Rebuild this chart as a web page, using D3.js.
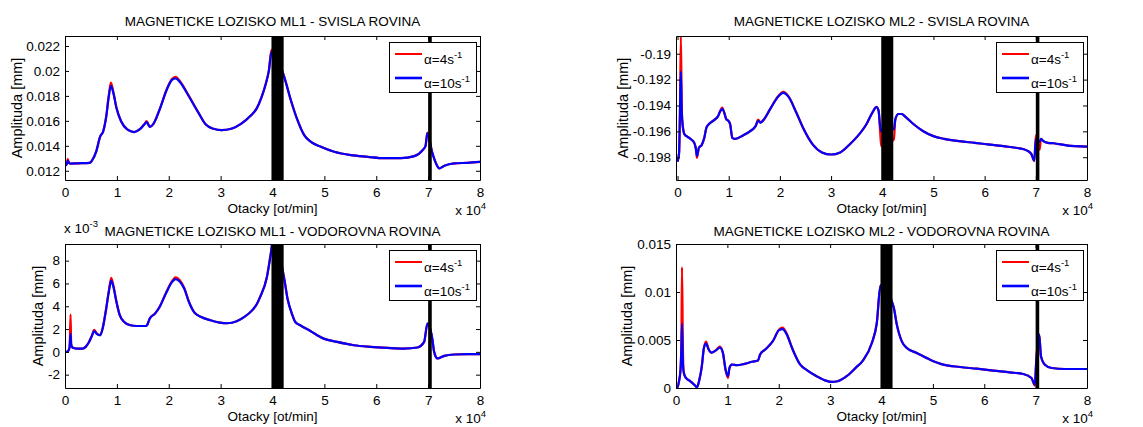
<!DOCTYPE html>
<html>
<head>
<meta charset="utf-8">
<script src="https://cdn.jsdelivr.net/npm/d3@7"></script>
<style>
  body { margin: 0; background: #fff; }
  svg { display: block; font-family: "Liberation Sans", Arial, Helvetica, sans-serif; }
</style>
</head>
<body>
<svg id="fig" width="1143" height="427"></svg>
<script>
// ---- shared axis data ----
const xTicks = [0, 10000, 20000, 30000, 40000, 50000, 60000, 70000, 80000];
const xTickLabels = ["0", "1", "2", "3", "4", "5", "6", "7", "8"];
const seriesLabels = ["\u03b1=4s", "\u03b1=10s"];   // each followed by superscript -1
const seriesColors = ["#ff0000", "#0000ff"];
// speed ranges where the response oscillates densely (drawn solid black)
const bands = [[39800, 42150], [70000, 70700]];

// ---- ML1, vertical plane ----
const ml1SvRpm = [0, 300, 535, 800, 1010, 2500, 4750, 5170, 6060, 6770, 7370, 7960, 8440, 8850, 9330, 9920,
  10810, 12000, 13310, 14380, 15270, 15750, 16340, 17050, 18240, 19730, 20620, 21330, 22100, 23890, 25670,
  27150, 28640, 30120, 32200, 33990, 35770, 36960, 37900, 38700, 39300, 39800, 42250, 43540, 44820, 46110,
  47400, 49320, 51900, 55110, 58330, 61540, 64760, 67330, 68940, 69500, 69850, 70800, 71520, 72160, 73120,
  75050, 77620, 80000];
const ml1SvA4 = [0.01240, 0.01250, 0.01293, 0.01262, 0.01258, 0.01260, 0.01263, 0.01280, 0.01360, 0.01473,
  0.01517, 0.01640, 0.01805, 0.01906, 0.01830, 0.01705, 0.01597, 0.01531, 0.01510, 0.01531, 0.01572, 0.01598,
  0.01552, 0.01576, 0.01692, 0.01865, 0.01935, 0.01952, 0.01922, 0.01800, 0.01670, 0.01570, 0.01536, 0.01525,
  0.01539, 0.01578, 0.01640, 0.01700, 0.01792, 0.01898, 0.02005, 0.02170, 0.01955, 0.01765, 0.01605, 0.01485,
  0.01432, 0.01392, 0.01352, 0.01325, 0.01312, 0.01301, 0.01301, 0.01317, 0.01365, 0.01400, 0.01505, 0.01345,
  0.01259, 0.01219, 0.01240, 0.01259, 0.01264, 0.01272];
const ml1SvA10 = [0.01240, 0.01250, 0.01280, 0.01262, 0.01258, 0.01260, 0.01263, 0.01280, 0.01360, 0.01473,
  0.01517, 0.01637, 0.01795, 0.01880, 0.01822, 0.01703, 0.01597, 0.01531, 0.01510, 0.01531, 0.01570, 0.01590,
  0.01552, 0.01576, 0.01690, 0.01861, 0.01928, 0.01941, 0.01914, 0.01795, 0.01668, 0.01570, 0.01536, 0.01525,
  0.01539, 0.01578, 0.01640, 0.01700, 0.01790, 0.01895, 0.02000, 0.02150, 0.01952, 0.01765, 0.01605, 0.01485,
  0.01432, 0.01392, 0.01352, 0.01325, 0.01312, 0.01301, 0.01301, 0.01317, 0.01365, 0.01400, 0.01499, 0.01345,
  0.01259, 0.01219, 0.01240, 0.01259, 0.01264, 0.01272];

// ---- ML2, vertical plane ----
const ml2SvRpm = [0, 300, 475, 650, 830, 1010, 1370, 1960, 2670, 3270, 3560, 3800, 4160, 4750, 5230, 5640,
  6240, 7130, 7900, 8320, 8730, 9210, 9510, 9920, 10280, 10700, 11290, 12770, 14260, 15270, 15750, 16220,
  16930, 18120, 19610, 20680, 21690, 23170, 24660, 26440, 28220, 30000, 31790, 33570, 35190, 36900, 38090,
  38870, 39280, 39580, 39800, 42270, 42560, 43160, 43760, 44650, 46140, 47930, 50000, 52100, 55090, 58070,
  61050, 64030, 66420, 68210, 69110, 69700, 70000, 70750, 71010, 71490, 72380, 73470, 76000, 80000];
const ml2SvA4 = [-0.19834, -0.19768, -0.19440, -0.18868, -0.19420, -0.19550, -0.19624, -0.19642, -0.19663,
  -0.19689, -0.19729, -0.19805, -0.19729, -0.19703, -0.19650, -0.19571, -0.19540, -0.19513, -0.19484, -0.19443,
  -0.19416, -0.19466, -0.19505, -0.19518, -0.19545, -0.19650, -0.19658, -0.19632, -0.19597, -0.19558, -0.19510,
  -0.19532, -0.19505, -0.19426, -0.19330, -0.19295, -0.19330, -0.19450, -0.19584, -0.19703, -0.19763, -0.19779,
  -0.19763, -0.19703, -0.19637, -0.19545, -0.19453, -0.19410, -0.19440, -0.19600, -0.19716, -0.19663, -0.19505,
  -0.19466, -0.19466, -0.19492, -0.19545, -0.19597, -0.19637, -0.19658, -0.19676, -0.19689, -0.19703, -0.19716,
  -0.19729, -0.19747, -0.19774, -0.19830, -0.19630, -0.19742, -0.19658, -0.19676, -0.19689, -0.19692, -0.19708,
  -0.19718];
const ml2SvA10 = [-0.19834, -0.19768, -0.19453, -0.19137, -0.19453, -0.19558, -0.19624, -0.19642, -0.19663,
  -0.19689, -0.19729, -0.19789, -0.19729, -0.19703, -0.19650, -0.19571, -0.19540, -0.19513, -0.19484, -0.19447,
  -0.19426, -0.19466, -0.19505, -0.19518, -0.19545, -0.19650, -0.19658, -0.19632, -0.19597, -0.19558, -0.19518,
  -0.19532, -0.19505, -0.19426, -0.19334, -0.19303, -0.19334, -0.19453, -0.19584, -0.19703, -0.19763, -0.19779,
  -0.19763, -0.19703, -0.19637, -0.19545, -0.19453, -0.19413, -0.19440, -0.19558, -0.19600, -0.19584, -0.19505,
  -0.19466, -0.19466, -0.19492, -0.19545, -0.19597, -0.19637, -0.19658, -0.19676, -0.19689, -0.19703, -0.19716,
  -0.19729, -0.19747, -0.19774, -0.19826, -0.19660, -0.19680, -0.19658, -0.19676, -0.19689, -0.19692, -0.19708,
  -0.19718];

// ---- ML1, horizontal plane ----
const ml1VoRpm = [0, 420, 710, 890, 1070, 1190, 1430, 2200, 3390, 3980, 4580, 5170, 5640, 6180, 6770, 7250,
  7840, 8440, 8910, 9330, 9920, 10520, 11410, 12600, 13790, 15570, 15870, 16340, 17350, 18240, 19430, 20620,
  21330, 22100, 22990, 23890, 24950, 26260, 28040, 29830, 31310, 33100, 34580, 36070, 36960, 37600, 38900,
  39680, 40100, 42260, 42900, 43740, 44390, 45350, 47290, 49870, 52450, 55680, 58900, 62130, 65350, 67940,
  69230, 69870, 70800, 71160, 71810, 73100, 75030, 77610, 80000];
const ml1VoA4 = [0, 0, 0.00015, 0.00044, 0.00327, 0.00070, 0.00038, 0.00029, 0.00029, 0.00044, 0.00082,
  0.00140, 0.00192, 0.00160, 0.00146, 0.00204, 0.00352, 0.00530, 0.00650, 0.00585, 0.00440, 0.00327, 0.00262,
  0.00233, 0.00227, 0.00227, 0.00239, 0.00292, 0.00337, 0.00396, 0.00515, 0.00620, 0.00653, 0.00630, 0.00560,
  0.00440, 0.00345, 0.00306, 0.00277, 0.00257, 0.00251, 0.00268, 0.00306, 0.00364, 0.00417, 0.00480, 0.00655,
  0.00870, 0.00980, 0.00645, 0.00465, 0.00334, 0.00262, 0.00233, 0.00183, 0.00116, 0.00087, 0.00058, 0.00044,
  0.00035, 0.00029, 0.00038, 0.00087, 0.00250, 0.00116, 0.00000, -0.00058, -0.00035, -0.00023, -0.00020,
  -0.00020];
const ml1VoA10 = [0, 0, 0.00015, 0.00044, 0.00160, 0.00064, 0.00038, 0.00029, 0.00029, 0.00044, 0.00082,
  0.00140, 0.00181, 0.00155, 0.00146, 0.00204, 0.00350, 0.00525, 0.00624, 0.00569, 0.00437, 0.00327, 0.00262,
  0.00233, 0.00227, 0.00227, 0.00239, 0.00292, 0.00335, 0.00394, 0.00510, 0.00612, 0.00638, 0.00618, 0.00554,
  0.00437, 0.00344, 0.00306, 0.00277, 0.00257, 0.00251, 0.00268, 0.00306, 0.00364, 0.00417, 0.00480, 0.00650,
  0.00860, 0.00980, 0.00640, 0.00465, 0.00334, 0.00262, 0.00233, 0.00183, 0.00116, 0.00087, 0.00058, 0.00044,
  0.00035, 0.00029, 0.00038, 0.00087, 0.00247, 0.00116, 0.00000, -0.00058, -0.00035, -0.00023, -0.00020,
  -0.00020];

// ---- ML2, horizontal plane ----
const ml2VoRpm = [0, 175, 585, 877, 1050, 1170, 1345, 1520, 1930, 2810, 3680, 4090, 4560, 5030, 5440, 5850,
  6320, 6900, 7780, 8540, 9120, 9650, 10120, 10410, 10880, 11870, 13330, 14800, 15960, 16370, 17430, 18890,
  20060, 20760, 21520, 22690, 24150, 25610, 27370, 29120, 30290, 31460, 33220, 34970, 36300, 38120, 39090,
  39800, 42330, 42980, 43950, 44920, 46860, 49450, 52040, 55280, 58510, 61750, 64980, 67570, 69190, 69840,
  70100, 70700, 71040, 71800, 73140, 75700, 80000];
const ml2VoA4 = [0, 0, 0.00070, 0.00190, 0.00500, 0.01260, 0.00420, 0.00158, 0.00105, 0.00070, 0.00028,
  0.00007, 0.00088, 0.00228, 0.00420, 0.00484, 0.00410, 0.00368, 0.00395, 0.00431, 0.00368, 0.00185, 0.00105,
  0.00210, 0.00245, 0.00238, 0.00252, 0.00273, 0.00287, 0.00350, 0.00403, 0.00492, 0.00610, 0.00630, 0.00570,
  0.00405, 0.00245, 0.00182, 0.00123, 0.00077, 0.00063, 0.00070, 0.00123, 0.00210, 0.00280, 0.00469, 0.00680,
  0.01070, 0.00850, 0.00660, 0.00486, 0.00417, 0.00365, 0.00295, 0.00243, 0.00219, 0.00201, 0.00181, 0.00163,
  0.00146, 0.00104, 0.00025, 0.00260, 0.00556, 0.00330, 0.00243, 0.00208, 0.00198, 0.00198];
const ml2VoA10 = [0, 0, 0.00070, 0.00190, 0.00420, 0.00670, 0.00245, 0.00158, 0.00105, 0.00070, 0.00028,
  0.00007, 0.00088, 0.00228, 0.00420, 0.00463, 0.00403, 0.00368, 0.00392, 0.00420, 0.00368, 0.00193, 0.00123,
  0.00210, 0.00245, 0.00238, 0.00252, 0.00273, 0.00287, 0.00350, 0.00403, 0.00490, 0.00603, 0.00613, 0.00561,
  0.00403, 0.00245, 0.00182, 0.00123, 0.00077, 0.00063, 0.00070, 0.00123, 0.00210, 0.00280, 0.00469, 0.00677,
  0.01066, 0.00850, 0.00660, 0.00486, 0.00417, 0.00365, 0.00295, 0.00243, 0.00219, 0.00201, 0.00181, 0.00163,
  0.00146, 0.00104, 0.00035, 0.00260, 0.00556, 0.00330, 0.00243, 0.00208, 0.00198, 0.00198];

// ---- y tick sets ----
const ml1SvTicks = [0.012, 0.014, 0.016, 0.018, 0.020, 0.022];
const ml1SvTickLabels = ["0.012", "0.014", "0.016", "0.018", "0.02", "0.022"];
const ml2SvTicks = [-0.198, -0.196, -0.194, -0.192, -0.190];
const ml2SvTickLabels = ["-0.198", "-0.196", "-0.194", "-0.192", "-0.19"];
const ml1VoTicks = [-0.002, 0, 0.002, 0.004, 0.006, 0.008];
const ml1VoTickLabels = ["-2", "0", "2", "4", "6", "8"];
const ml2VoTicks = [0, 0.005, 0.010, 0.015];
const ml2VoTickLabels = ["0", "0.005", "0.01", "0.015"];

const titles = [
  "MAGNETICKE LOZISKO ML1 - SVISLA ROVINA",
  "MAGNETICKE LOZISKO ML2 - SVISLA ROVINA",
  "MAGNETICKE LOZISKO ML1 - VODOROVNA ROVINA",
  "MAGNETICKE LOZISKO ML2 - VODOROVNA ROVINA"
];
const xLabel = "Otacky [ot/min]";
const yLabel = "Amplituda [mm]";

// ---- panel assembly ----
const panels = [
  { title: titles[0], rpm: ml1SvRpm, series: [ml1SvA4, ml1SvA10], yTicks: ml1SvTicks, yTickLabels: ml1SvTickLabels,
    box: { left: 65, right: 480, top: 36, bottom: 180 }, xDomain: [0, 80000], yDomain: [0.01126, 0.0228],
    yLabelX: 17, titleGap: 10, yExp: null },
  { title: titles[1], rpm: ml2SvRpm, series: [ml2SvA4, ml2SvA10], yTicks: ml2SvTicks, yTickLabels: ml2SvTickLabels,
    box: { left: 676, right: 1087, top: 36, bottom: 180 }, xDomain: [-300, 80000], yDomain: [-0.19976, -0.18863],
    yLabelX: 623, titleGap: 10, yExp: null },
  { title: titles[2], rpm: ml1VoRpm, series: [ml1VoA4, ml1VoA10], yTicks: ml1VoTicks, yTickLabels: ml1VoTickLabels,
    box: { left: 65, right: 480, top: 244, bottom: 388 }, xDomain: [0, 80000], yDomain: [-0.00317, 0.00946],
    yLabelX: 38, titleGap: 8, yExp: "-3" },
  { title: titles[3], rpm: ml2VoRpm, series: [ml2VoA4, ml2VoA10], yTicks: ml2VoTicks, yTickLabels: ml2VoTickLabels,
    box: { left: 676, right: 1087, top: 244, bottom: 388 }, xDomain: [0, 80000], yDomain: [0, 0.015],
    yLabelX: 627, titleGap: 8, yExp: null }
];

const svg = d3.select("#fig");
const FS = 13.5;
const TICK = 4;

panels.forEach((p, i) => {
  const b = p.box;
  const x = d3.scaleLinear().domain(p.xDomain).range([b.left, b.right]);
  const y = d3.scaleLinear().domain(p.yDomain).range([b.bottom, b.top]);
  const g = svg.append("g");

  const clipId = "clip" + i;
  svg.append("clipPath").attr("id", clipId)
    .append("rect").attr("x", b.left).attr("y", b.top)
    .attr("width", b.right - b.left).attr("height", b.bottom - b.top);

  const plot = g.append("g").attr("clip-path", `url(#${clipId})`);

  // curves: alpha = 4 first, alpha = 10 on top
  const line = d3.line().curve(d3.curveMonotoneX).x(d => x(d[0])).y(d => y(d[1]));
  p.series.forEach((vals, s) => {
    const pts = p.rpm.map((r, k) => [r, vals[k]]);
    plot.append("path")
      .datum(pts)
      .attr("fill", "none")
      .attr("stroke", seriesColors[s])
      .attr("stroke-width", 2.2)
      .attr("stroke-linejoin", "round")
      .attr("d", line);
  });

  // dense oscillation bands
  plot.selectAll("rect.band").data(bands).join("rect")
    .attr("class", "band")
    .attr("x", d => x(d[0])).attr("width", d => x(d[1]) - x(d[0]))
    .attr("y", b.top).attr("height", b.bottom - b.top)
    .attr("fill", "#000");

  // axes with inward ticks on all four sides
  const fmtX = d => xTickLabels[xTicks.indexOf(d)];
  const fmtY = d => p.yTickLabels[p.yTicks.indexOf(d)];
  const styleAxis = sel => {
    sel.selectAll("text").attr("font-size", FS).attr("fill", "#000")
      .attr("font-family", '"Liberation Sans", Arial, sans-serif');
    sel.selectAll("line, path").attr("stroke", "#000");
  };
  g.append("g").attr("transform", `translate(0,${b.bottom})`)
    .call(d3.axisBottom(x).tickValues(xTicks).tickFormat(fmtX).tickSizeInner(-TICK).tickSizeOuter(0).tickPadding(7))
    .call(styleAxis);
  g.append("g").attr("transform", `translate(0,${b.top})`)
    .call(d3.axisTop(x).tickValues(xTicks).tickFormat("").tickSizeInner(-TICK).tickSizeOuter(0))
    .call(styleAxis);
  g.append("g").attr("transform", `translate(${b.left},0)`)
    .call(d3.axisLeft(y).tickValues(p.yTicks).tickFormat(fmtY).tickSizeInner(-TICK).tickSizeOuter(0).tickPadding(5))
    .call(styleAxis);
  g.append("g").attr("transform", `translate(${b.right},0)`)
    .call(d3.axisRight(y).tickValues(p.yTicks).tickFormat("").tickSizeInner(-TICK).tickSizeOuter(0))
    .call(styleAxis);

  // title
  g.append("text")
    .attr("x", (b.left + b.right) / 2).attr("y", b.top - p.titleGap)
    .attr("text-anchor", "middle").attr("font-size", FS).text(p.title);

  // x label
  g.append("text")
    .attr("x", (b.left + b.right) / 2).attr("y", b.bottom + 33)
    .attr("text-anchor", "middle").attr("font-size", FS).text(xLabel);

  // y label
  g.append("text")
    .attr("transform", `translate(${p.yLabelX},${(b.top + b.bottom) / 2}) rotate(-90)`)
    .attr("dy", "0.35em")
    .attr("text-anchor", "middle").attr("font-size", 14.5).text(yLabel);

  // x multiplier  "x 10^4"
  const xm = g.append("text")
    .attr("x", b.right + 6).attr("y", b.bottom + 35)
    .attr("text-anchor", "end").attr("font-size", FS);
  xm.append("tspan").text("x 10");
  xm.append("tspan").attr("dy", -6).attr("font-size", 9.5).text("4");

  // y multiplier
  if (p.yExp) {
    const ym = g.append("text")
      .attr("x", b.left - 1).attr("y", b.top - 11)
      .attr("font-size", FS);
    ym.append("tspan").text("x 10");
    ym.append("tspan").attr("dy", -6).attr("font-size", 9.5).text(p.yExp);
  }

  // legend
  const lw = 87, lh = 50;
  const lx = b.right - 4 - lw, ly = b.top + 6;
  const leg = g.append("g");
  leg.append("rect").attr("x", lx + 0.5).attr("y", ly + 0.5).attr("width", lw).attr("height", lh)
    .attr("fill", "#fff").attr("stroke", "#000").attr("stroke-width", 1);
  seriesLabels.forEach((lab, s) => {
    const yl = ly + 12 + s * 24;
    leg.append("line").attr("x1", lx + 6).attr("x2", lx + 33).attr("y1", yl).attr("y2", yl)
      .attr("stroke", seriesColors[s]).attr("stroke-width", s === 0 ? 2 : 2.6);
    const t = leg.append("text").attr("x", lx + 35).attr("y", yl + 10).attr("font-size", FS);
    t.append("tspan").text(lab);
    t.append("tspan").attr("dy", -6).attr("font-size", 9.5).text("-1");
  });
});
</script>
</body>
</html>
